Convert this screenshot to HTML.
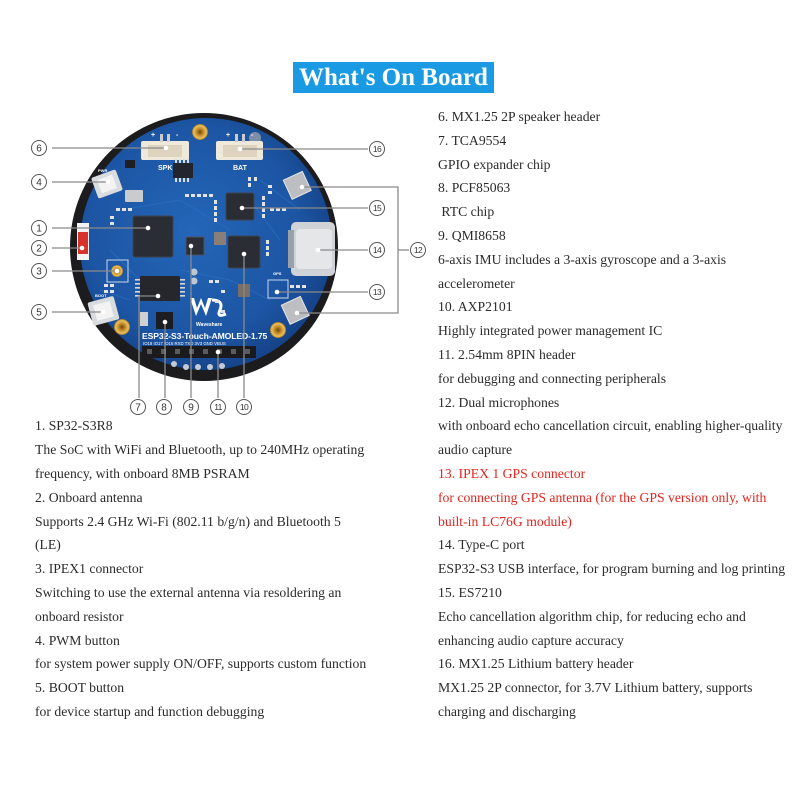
<!DOCTYPE html>
<html><head><meta charset="utf-8">
<style>
html,body{margin:0;padding:0;background:#fff;}
body{width:800px;height:800px;position:relative;overflow:hidden;font-family:"Liberation Serif",serif;}
.t{position:absolute;font-size:13.7px;line-height:16px;color:#2b2b2b;white-space:nowrap;}
.r{color:#e3241d;}
#title{position:absolute;left:293px;top:62px;width:201px;height:31px;background:#1b9ae4;color:#fff;font-weight:bold;font-size:25px;line-height:31px;text-align:center;font-family:"Liberation Serif",serif;}
svg{position:absolute;left:0;top:0;}
</style></head><body>
<div id="title">What's On Board</div>

<svg width="800" height="420" viewBox="0 0 800 420">
<defs>
<radialGradient id="pcb" cx="0.45" cy="0.45" r="0.6">
<stop offset="0" stop-color="#2466b8"/>
<stop offset="0.7" stop-color="#1c55a3"/>
<stop offset="1" stop-color="#143f82"/>
</radialGradient>
<radialGradient id="gold" cx="0.5" cy="0.5" r="0.5">
<stop offset="0" stop-color="#6b4a10"/>
<stop offset="0.45" stop-color="#c98f2a"/>
<stop offset="0.8" stop-color="#e8c060"/>
<stop offset="1" stop-color="#9c7020"/>
</radialGradient>
</defs>
<!-- outer bezel -->
<circle cx="204" cy="247" r="134" fill="#1c1c1e"/>
<circle cx="206" cy="244" r="126" fill="url(#pcb)"/>
<!-- traces texture -->
<g stroke="#2b6fc4" stroke-width="1" fill="none" opacity="0.7">
<path d="M120 210 L180 200 L230 230 M110 250 L140 280 M260 180 L300 210 M180 270 L230 280 L270 300 M100 290 L130 300 M250 200 L280 240"/>
</g>
<!-- gold mounting holes -->
<circle cx="200" cy="132" r="8" fill="url(#gold)"/>
<circle cx="122" cy="327" r="8" fill="url(#gold)"/>
<circle cx="278" cy="330" r="8" fill="url(#gold)"/>
<circle cx="255" cy="138" r="6" fill="#7d8fa8"/>
<!-- SPK / BAT connectors -->
<rect x="141" y="141" width="48" height="19" rx="2" fill="#efe9dc"/>
<rect x="148" y="145" width="34" height="12" fill="#ddd3bf"/>
<rect x="160" y="134" width="3" height="8" fill="#ccc"/><rect x="167" y="134" width="3" height="8" fill="#ccc"/>
<rect x="216" y="141" width="47" height="19" rx="2" fill="#efe9dc"/>
<rect x="223" y="145" width="34" height="12" fill="#ddd3bf"/>
<rect x="235" y="134" width="3" height="8" fill="#ccc"/><rect x="242" y="134" width="3" height="8" fill="#ccc"/>
<g font-family="Liberation Sans,sans-serif" font-weight="bold" fill="#fff">
<text x="158" y="170" font-size="7">SPK</text>
<text x="233" y="170" font-size="7">BAT</text>
<text x="151" y="137" font-size="7">+</text><text x="176" y="137" font-size="7">-</text>
<text x="226" y="137" font-size="7">+</text><text x="251" y="137" font-size="7">-</text>
<text x="142" y="339" font-size="8.6" letter-spacing="-0.1">ESP32-S3-Touch-AMOLED-1.75</text>
<text x="143" y="345" font-size="4.3" font-weight="normal">IO18  IO17  IO16   RXD   TXD   3V3   GND  VBUS</text>
<text x="196" y="326" font-size="5">Waveshare</text>
<text x="98" y="172" font-size="4">PWR</text>
<text x="95" y="297" font-size="4">BOOT</text>
<text x="273" y="275" font-size="4">GPS</text>
</g>
<!-- small chip near top -->
<rect x="173" y="163" width="20" height="15" fill="#22252c"/>
<g fill="#ddd"><rect x="175" y="159" width="2" height="4"/><rect x="179" y="159" width="2" height="4"/><rect x="183" y="159" width="2" height="4"/><rect x="187" y="159" width="2" height="4"/>
<rect x="175" y="178" width="2" height="4"/><rect x="179" y="178" width="2" height="4"/><rect x="183" y="178" width="2" height="4"/><rect x="187" y="178" width="2" height="4"/></g>
<rect x="125" y="160" width="10" height="8" fill="#1e1f24"/>
<!-- PWR button -->
<rect x="94" y="173" width="26" height="22" rx="2" fill="#d9dcdf" transform="rotate(-20 107 184)"/>
<rect x="99" y="177" width="16" height="14" fill="#f3f3f3" transform="rotate(-20 107 184)"/>
<!-- BOOT button -->
<rect x="90" y="299" width="27" height="24" rx="2" fill="#d9dcdf" transform="rotate(-15 103 311)"/>
<rect x="95" y="303" width="17" height="16" fill="#f3f3f3" transform="rotate(-15 103 311)"/>
<!-- crystal -->
<rect x="125" y="190" width="18" height="12" rx="1" fill="#c9cbcf"/>
<!-- red antenna -->
<rect x="77" y="223" width="12" height="37" fill="#f2f2f2"/>
<rect x="78" y="232" width="10" height="22" fill="#d8322c"/>
<!-- IPEX -->
<rect x="107" y="260" width="21" height="22" fill="none" stroke="#c9d6ea" stroke-width="1"/>
<circle cx="117" cy="271" r="6" fill="url(#gold)"/>
<!-- Chip 1 ESP32 -->
<rect x="133" y="216" width="40" height="41" rx="2" fill="#2a2d34" stroke="#3d4450"/>
<!-- Chip 7 -->
<rect x="140" y="276" width="40" height="25" rx="1" fill="#25272d"/>
<g fill="#d8d8d8"><rect x="135" y="279" width="5" height="1.6"/><rect x="135" y="283" width="5" height="1.6"/><rect x="135" y="287" width="5" height="1.6"/><rect x="135" y="291" width="5" height="1.6"/><rect x="135" y="295" width="5" height="1.6"/>
<rect x="180" y="279" width="5" height="1.6"/><rect x="180" y="283" width="5" height="1.6"/><rect x="180" y="287" width="5" height="1.6"/><rect x="180" y="291" width="5" height="1.6"/><rect x="180" y="295" width="5" height="1.6"/></g>
<!-- Chip 8 -->
<rect x="156" y="312" width="17" height="17" fill="#1c1d22"/>
<rect x="140" y="312" width="8" height="14" fill="#d0d0d0"/>
<!-- Chip 9 -->
<rect x="186" y="237" width="18" height="18" rx="1" fill="#2b2e36" stroke="#4a5160"/>
<!-- Chip 15 -->
<rect x="226" y="193" width="28" height="27" rx="2" fill="#2a2d34" stroke="#3d4450"/>
<!-- Chip 10 -->
<rect x="228" y="236" width="32" height="32" rx="2" fill="#2a2d34" stroke="#3d4450"/>
<!-- inductor -->
<rect x="214" y="232" width="12" height="13" fill="#8a7f78"/>
<rect x="238" y="284" width="12" height="13" fill="#7a6e66"/>
<!-- white logo -->
<path d="M190 298 L196 316 L201 304 L206 316 L212 298 L208 298 L205 308 L201 298 L197 308 L194 298Z" fill="#fff"/>
<path d="M212 300 Q224 300 220 310 Q216 318 226 314" stroke="#fff" stroke-width="3" fill="none"/>
<!-- RST GND pads -->
<circle cx="194" cy="272" r="3.5" fill="#bfc7d2"/><circle cx="194" cy="281" r="3.5" fill="#bfc7d2"/>
<!-- Type-C -->
<rect x="291" y="222" width="44" height="54" rx="5" fill="#cfd2d6"/>
<rect x="296" y="229" width="36" height="40" rx="4" fill="#e4e6e8"/>
<rect x="288" y="230" width="6" height="38" fill="#9aa0a8"/>
<!-- mics -->
<rect x="287" y="175" width="21" height="21" fill="#bdbec2" stroke="#e6e6e6" transform="rotate(-25 297 186)"/>
<rect x="285" y="300" width="21" height="21" fill="#bdbec2" stroke="#e6e6e6" transform="rotate(-25 295 311)"/>
<!-- GPS ipex -->
<rect x="268" y="280" width="20" height="18" fill="none" stroke="#c9d6ea" stroke-width="1"/>
<!-- small passive rows -->
<g fill="#e3e3e3">
<rect x="116" y="208" width="4" height="3"/><rect x="122" y="208" width="4" height="3"/><rect x="128" y="208" width="4" height="3"/>
<rect x="110" y="216" width="4" height="3"/><rect x="110" y="222" width="4" height="3"/>
<rect x="185" y="194" width="4" height="3"/><rect x="191" y="194" width="4" height="3"/><rect x="197" y="194" width="4" height="3"/><rect x="203" y="194" width="4" height="3"/><rect x="209" y="194" width="4" height="3"/>
<rect x="214" y="200" width="3" height="4"/><rect x="214" y="206" width="3" height="4"/><rect x="214" y="212" width="3" height="4"/><rect x="214" y="218" width="3" height="4"/>
<rect x="262" y="196" width="3" height="4"/><rect x="262" y="202" width="3" height="4"/><rect x="262" y="208" width="3" height="4"/><rect x="262" y="214" width="3" height="4"/>
<rect x="270" y="208" width="4" height="3"/><rect x="276" y="208" width="4" height="3"/><rect x="282" y="208" width="4" height="3"/>
<rect x="290" y="285" width="4" height="3"/><rect x="296" y="285" width="4" height="3"/><rect x="302" y="285" width="4" height="3"/>
<rect x="266" y="240" width="3" height="4"/><rect x="266" y="246" width="3" height="4"/><rect x="266" y="252" width="3" height="4"/>
<rect x="209" y="280" width="4" height="3"/><rect x="215" y="280" width="4" height="3"/><rect x="221" y="290" width="4" height="3"/><rect x="215" y="300" width="4" height="3"/><rect x="221" y="310" width="4" height="3"/>
<rect x="104" y="284" width="4" height="3"/><rect x="110" y="284" width="4" height="3"/><rect x="104" y="290" width="4" height="3"/><rect x="110" y="290" width="4" height="3"/>
<rect x="248" y="177" width="3" height="4"/><rect x="248" y="183" width="3" height="4"/><rect x="254" y="177" width="3" height="4"/>
<rect x="268" y="185" width="4" height="3"/><rect x="268" y="191" width="4" height="3"/>
</g>
<!-- header -->
<rect x="142" y="346" width="114" height="12" fill="#1b1b1d"/>
<g fill="#5c5c5e">
<rect x="147" y="349" width="5" height="5"/><rect x="161" y="349" width="5" height="5"/><rect x="175" y="349" width="5" height="5"/><rect x="189" y="349" width="5" height="5"/>
<rect x="203" y="349" width="5" height="5"/><rect x="217" y="349" width="5" height="5"/><rect x="231" y="349" width="5" height="5"/><rect x="245" y="349" width="5" height="5"/>
</g>
<g fill="#c3cad4"><circle cx="174" cy="364" r="3"/><circle cx="186" cy="367" r="3"/><circle cx="198" cy="367" r="3"/><circle cx="210" cy="367" r="3"/><circle cx="222" cy="366" r="3"/></g>

<!-- leader lines -->
<g stroke="#8a8a8a" stroke-width="1.3" fill="none">
<path d="M52 148 H166"/>
<path d="M52 182 H108"/>
<path d="M52 228 H148"/>
<path d="M52 248 H82"/>
<path d="M52 271 H117"/>
<path d="M52 312 H103"/>
<path d="M240 149 H368"/>
<path d="M242 208 H368"/>
<path d="M318 250 H368"/>
<path d="M277 292 H368"/>
<path d="M302 187 H398 V313 H297"/>
<path d="M398 250 H409"/>
<path d="M139 398 V296 H158"/>
<path d="M165 398 V322"/>
<path d="M191 398 V246"/>
<path d="M218 398 V352"/>
<path d="M244 398 V254"/>
</g>
<g fill="#fff">
<circle cx="166" cy="148" r="2.3"/><circle cx="108" cy="182" r="2.3"/><circle cx="148" cy="228" r="2.3"/><circle cx="82" cy="248" r="2.3"/><circle cx="117" cy="271" r="2.3"/><circle cx="103" cy="312" r="2.3"/>
<circle cx="240" cy="149" r="2.3"/><circle cx="242" cy="208" r="2.3"/><circle cx="318" cy="250" r="2.3"/><circle cx="277" cy="292" r="2.3"/><circle cx="302" cy="187" r="2.3"/><circle cx="297" cy="313" r="2.3"/>
<circle cx="158" cy="296" r="2.3"/><circle cx="165" cy="322" r="2.3"/><circle cx="191" cy="246" r="2.3"/><circle cx="218" cy="352" r="2.3"/><circle cx="244" cy="254" r="2.3"/>
</g>
<!-- markers -->
<g stroke="#555" stroke-width="1" fill="#fff">
<circle cx="39" cy="148" r="7.5"/><circle cx="39" cy="182" r="7.5"/><circle cx="39" cy="228" r="7.5"/><circle cx="39" cy="248" r="7.5"/><circle cx="39" cy="271" r="7.5"/><circle cx="39" cy="312" r="7.5"/>
<circle cx="377" cy="149" r="7.5"/><circle cx="377" cy="208" r="7.5"/><circle cx="377" cy="250" r="7.5"/><circle cx="377" cy="292" r="7.5"/><circle cx="418" cy="250" r="7.5"/>
<circle cx="138" cy="407" r="7.5"/><circle cx="164" cy="407" r="7.5"/><circle cx="191" cy="407" r="7.5"/><circle cx="218" cy="407" r="7.5"/><circle cx="244" cy="407" r="7.5"/>
</g>
<g font-family="Liberation Sans,sans-serif" font-size="10" fill="#333" text-anchor="middle">
<text x="39" y="151.5">6</text><text x="39" y="185.5">4</text><text x="39" y="231.5">1</text><text x="39" y="251.5">2</text><text x="39" y="274.5">3</text><text x="39" y="315.5">5</text>
<text x="138" y="410.5">7</text><text x="164" y="410.5">8</text><text x="191" y="410.5">9</text>
</g>
<g font-family="Liberation Sans,sans-serif" font-size="8.5" fill="#333" text-anchor="middle" letter-spacing="-0.6">
<text x="377" y="152">16</text><text x="377" y="211">15</text><text x="377" y="253">14</text><text x="377" y="295">13</text><text x="418" y="253">12</text>
<text x="218" y="410">11</text><text x="244" y="410">10</text>
</g>
</svg>

<!-- right column -->
<div class="t" style="left:438px;top:109px">6. MX1.25 2P speaker header</div>
<div class="t" style="left:438px;top:133px">7. TCA9554</div>
<div class="t" style="left:438px;top:157px">GPIO expander chip</div>
<div class="t" style="left:438px;top:180px">8. PCF85063</div>
<div class="t" style="left:438px;top:204px">&nbsp;RTC chip</div>
<div class="t" style="left:438px;top:228px">9. QMI8658</div>
<div class="t" style="left:438px;top:252px">6-axis IMU includes a 3-axis gyroscope and a 3-axis</div>
<div class="t" style="left:438px;top:276px">accelerometer</div>
<div class="t" style="left:438px;top:299px">10. AXP2101</div>
<div class="t" style="left:438px;top:323px">Highly integrated power management IC</div>
<div class="t" style="left:438px;top:347px">11. 2.54mm 8PIN header</div>
<div class="t" style="left:438px;top:371px">for debugging and connecting peripherals</div>
<div class="t" style="left:438px;top:395px">12. Dual microphones</div>
<div class="t" style="left:438px;top:418px">with onboard echo cancellation circuit, enabling higher-quality</div>
<div class="t" style="left:438px;top:442px">audio capture</div>
<div class="t r" style="left:438px;top:466px">13. IPEX 1 GPS connector</div>
<div class="t r" style="left:438px;top:490px">for connecting GPS antenna (for the GPS version only, with</div>
<div class="t r" style="left:438px;top:514px">built-in LC76G module)</div>
<div class="t" style="left:438px;top:537px">14. Type-C port</div>
<div class="t" style="left:438px;top:561px">ESP32-S3 USB interface, for program burning and log printing</div>
<div class="t" style="left:438px;top:585px">15. ES7210</div>
<div class="t" style="left:438px;top:609px">Echo cancellation algorithm chip, for reducing echo and</div>
<div class="t" style="left:438px;top:633px">enhancing audio capture accuracy</div>
<div class="t" style="left:438px;top:656px">16. MX1.25 Lithium battery header</div>
<div class="t" style="left:438px;top:680px">MX1.25 2P connector, for 3.7V Lithium battery, supports</div>
<div class="t" style="left:438px;top:704px">charging and discharging</div>

<!-- left column -->
<div class="t" style="left:35px;top:418px">1. SP32-S3R8</div>
<div class="t" style="left:35px;top:442px">The SoC with WiFi and Bluetooth, up to 240MHz operating</div>
<div class="t" style="left:35px;top:466px">frequency, with onboard 8MB PSRAM</div>
<div class="t" style="left:35px;top:490px">2. Onboard antenna</div>
<div class="t" style="left:35px;top:514px">Supports 2.4 GHz Wi-Fi (802.11 b/g/n) and Bluetooth 5</div>
<div class="t" style="left:35px;top:537px">(LE)</div>
<div class="t" style="left:35px;top:561px">3. IPEX1 connector</div>
<div class="t" style="left:35px;top:585px">Switching to use the external antenna via resoldering an</div>
<div class="t" style="left:35px;top:609px">onboard resistor</div>
<div class="t" style="left:35px;top:633px">4. PWM button</div>
<div class="t" style="left:35px;top:656px">for system power supply ON/OFF, supports custom function</div>
<div class="t" style="left:35px;top:680px">5. BOOT button</div>
<div class="t" style="left:35px;top:704px">for device startup and function debugging</div>
</body></html>
